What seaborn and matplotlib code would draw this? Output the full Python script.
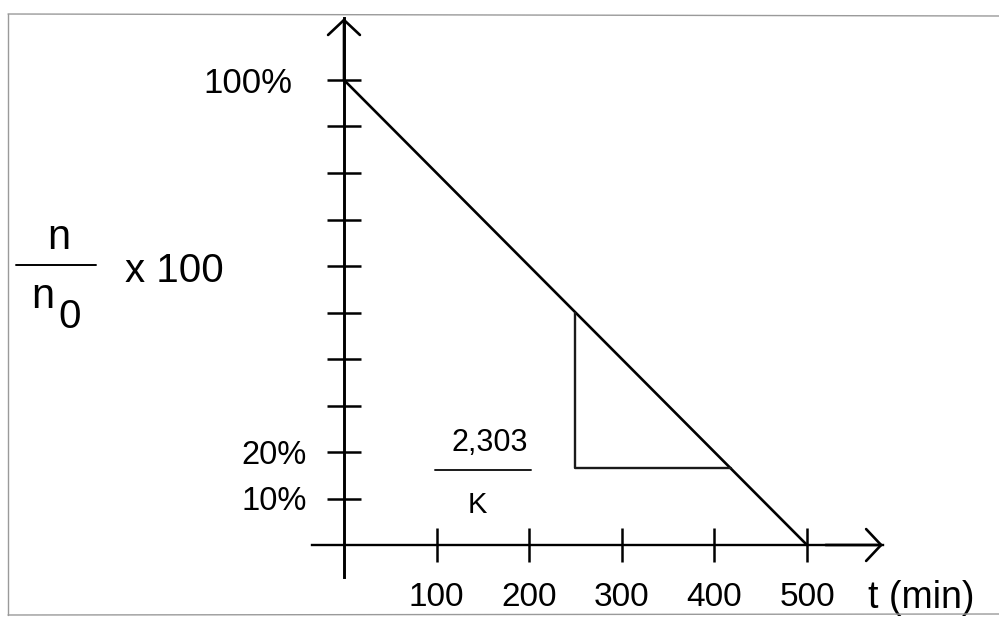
import matplotlib
matplotlib.use("Agg")
import matplotlib.pyplot as plt
from matplotlib.lines import Line2D
import seaborn as sns
import pandas as pd

# ---- data ----
t_min = [0, 500]                      # time (min)
pct = [100, 0]                        # n/n0 x 100
tri_t = [250, 250, 417.5]             # slope triangle
tri_pct = [50, 16.5, 16.5]
x_ticks = [100, 200, 300, 400, 500]
x_tick_labels = ["100", "200", "300", "400", "500"]
y_ticks = [10, 20, 30, 40, 50, 60, 70, 80, 90, 100]
y_tick_labels = ["10%", "20%", "", "", "", "", "", "", "", "100%"]
slope_num = "2,303"
slope_den = "K"
x_label = "t (min)"

sns.set_theme(style="white")
plt.rcParams["font.family"] = ["Liberation Sans", "DejaVu Sans"]
plt.rcParams["text.color"] = "black"

W, H = 999, 621
fig = plt.figure(figsize=(W / 100, H / 100), dpi=100)
ax = fig.add_axes([0, 0, 1, 1])
ax.set_facecolor("none")

# pixel geometry of the reference
x0px, sx = 344, 463 / 500
y0px, sy = 545, 465 / 100
ax.set_xlim(-x0px / sx, (W - x0px) / sx)
ax.set_ylim((y0px - H) / sy, y0px / sy)

line_df = pd.DataFrame({"t": t_min, "pct": pct})
sns.lineplot(data=line_df, x="t", y="pct", ax=ax, color="black", lw=1.9,
             estimator=None, sort=False)
tri_df = pd.DataFrame({"t": tri_t, "pct": tri_pct})
sns.lineplot(data=tri_df, x="t", y="pct", ax=ax, color="#1a1a1a", lw=1.7,
             estimator=None, sort=False)

# axes through origin
for s in ["top", "right"]:
    ax.spines[s].set_visible(False)
ax.spines["left"].set_position(("data", 0))
ax.spines["bottom"].set_position(("data", 0))
ax.spines["left"].set_bounds(-6.9, 113.3)
ax.spines["bottom"].set_bounds(-34.6, 582)
ax.spines["left"].set_linewidth(2.1)
ax.spines["bottom"].set_linewidth(1.7)
for s in ["left", "bottom"]:
    ax.spines[s].set_color("black")

arrow_kw = dict(arrowstyle="->,head_length=0.8,head_width=0.85",
                mutation_scale=13.5, lw=1.9, color="black",
                shrinkA=0, shrinkB=0)
ax.annotate("", xy=(0, 113.3), xytext=(0, 100), arrowprops=arrow_kw)
ax.annotate("", xy=(582, 0), xytext=(520, 0), arrowprops=arrow_kw)

ax.set_xticks(x_ticks, x_tick_labels)
ax.set_yticks(y_ticks, y_tick_labels)
ax.tick_params(axis="both", direction="inout", length=24, width=1.8,
               color="black", labelcolor="black")
ax.tick_params(axis="x", pad=15, labelsize=24, bottom=True)
ax.tick_params(axis="y", pad=15, labelsize=23.5, left=True)
for lab in ax.get_yticklabels():
    if lab.get_text() == "100%":
        lab.set_fontsize(25)
ax.yaxis.get_major_ticks()[-1].set_pad(25)
ax.set_xlabel("")
ax.set_ylabel("")

# slope fraction 2,303 / K
ax.text(157.7, 22.6, slope_num, fontsize=22, ha="center", va="center_baseline")
ax.plot([98.3, 202], [16.1, 16.1], color="#1a1a1a", lw=1.4)
ax.text(143.6, 9.2, slope_den, fontsize=21, ha="center", va="center_baseline")

# x-axis label
ax.text(565.9, -10.5, x_label, fontsize=27, ha="left", va="center_baseline")

# y-axis label: n / n0 x 100
def fx(x):
    return x / W

def fy(y):
    return 1 - y / H

fig.text(fx(59), fy(238), "n", fontsize=30, ha="center", va="center")
fig.add_artist(Line2D([fx(16), fx(96)], [fy(265), fy(265)], color="black", lw=1.4))
fig.text(fx(43), fy(297), "n", fontsize=30, ha="center", va="center")
fig.text(fx(70), fy(312.5), "0", fontsize=29, ha="center", va="center_baseline")
fig.text(fx(125), fy(267.5), "x 100", fontsize=29, ha="left", va="center_baseline")

# scanned-page frame (top, left, bottom)
frame_kw = dict(color="#9a9a9a", lw=1.0)
fig.add_artist(Line2D([fx(8), fx(999)], [fy(14), fy(16)], **frame_kw))
fig.add_artist(Line2D([fx(8), fx(8)], [fy(14), fy(615)], **frame_kw))
fig.add_artist(Line2D([fx(8), fx(999)], [fy(615), fy(614)], **frame_kw))

fig.savefig("out.png", dpi=100)
